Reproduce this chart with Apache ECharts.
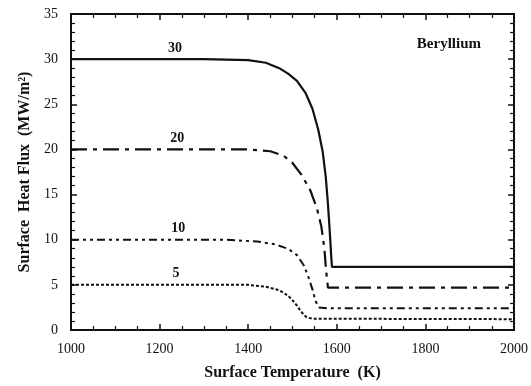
<!DOCTYPE html>
<html>
<head>
<meta charset="utf-8">
<script src="https://cdn.jsdelivr.net/npm/echarts@6/dist/echarts.min.js"></script>
<style>
  html, body { margin: 0; padding: 0; background: #fff; }
  #chart { width: 531px; height: 386px; }
</style>
</head>
<body>
<div id="chart"></div>
<script>
// surface temperature (K) / surface heat flux (MW/m^2)
var tempQ30 = [1000, 1300, 1400, 1440, 1470, 1490, 1510, 1530, 1545, 1558, 1568, 1575, 1580, 1584, 1587, 1589, 1600, 2000];
var fluxQ30 = [30, 30, 29.9, 29.6, 29.0, 28.4, 27.6, 26.2, 24.5, 22.2, 19.8, 17.0, 14.0, 11.0, 8.5, 7.0, 7.0, 7.0];

var tempQ20 = [1000, 1400, 1450, 1480, 1500, 1520, 1540, 1555, 1565, 1572, 1576, 1580, 2000];
var fluxQ20 = [20, 20, 19.8, 19.3, 18.5, 17.2, 15.5, 13.5, 11.5, 9.0, 6.5, 4.7, 4.7];

var tempQ10 = [1000, 1350, 1420, 1460, 1490, 1510, 1525, 1535, 1545, 1552, 1560, 1580, 2000];
var fluxQ10 = [10, 10, 9.8, 9.5, 9.0, 8.3, 7.2, 6.0, 4.5, 3.2, 2.5, 2.4, 2.4];

var tempQ5 = [1000, 1400, 1440, 1470, 1490, 1500, 1510, 1517, 1525, 1532, 1545, 2000];
var fluxQ5 = [5, 5, 4.8, 4.4, 3.8, 3.3, 2.7, 2.2, 1.7, 1.4, 1.25, 1.2];

var curveNames = ['30', '20', '10', '5'];
var labelTemps = [1235, 1240, 1242, 1237];

function pairs(xs, ys) {
  return xs.map(function (x, i) { return [x, ys[i]]; });
}

var ink = '#111';
var serif = 'Liberation Serif';

function lineSeries(name, xs, ys, dash, width, labelX) {
  return {
    name: name,
    type: 'line',
    showSymbol: false,
    silent: true,
    data: pairs(xs, ys),
    lineStyle: { color: ink, width: width, type: dash },
    markPoint: {
      symbol: 'circle',
      symbolSize: 1,
      itemStyle: { color: 'rgba(0,0,0,0)' },
      label: {
        show: true,
        position: 'inside',
        offset: [0, -11],
        formatter: name,
        color: ink,
        fontFamily: serif,
        fontWeight: 'bold',
        fontSize: 14
      },
      data: [{ coord: [labelX, ys[0]] }]
    }
  };
}

function xAx(pos, showLabel) {
  return {
    type: 'value',
    position: pos,
    min: 1000,
    max: 2000,
    interval: 200,
    name: showLabel ? 'Surface Temperature  (K)' : '',
    nameLocation: 'middle',
    nameGap: 35,
    nameTextStyle: { fontFamily: serif, fontWeight: 'bold', fontSize: 16, color: ink },
    axisLine: { show: true, onZero: false, lineStyle: { color: ink, width: 2 } },
    axisTick: { show: true, inside: true, length: 6, lineStyle: { color: ink, width: 1.5 } },
    minorTick: { show: true, splitNumber: 4, length: 4, lineStyle: { color: ink, width: 1.2 } },
    axisLabel: {
      show: showLabel, margin: 12, fontFamily: serif, fontSize: 14, color: ink,
      formatter: function (v) { return String(v); }
    },
    splitLine: { show: false }
  };
}

function yAx(pos, showLabel) {
  return {
    type: 'value',
    position: pos,
    min: 0,
    max: 35,
    interval: 5,
    name: showLabel ? 'Surface  Heat Flux  (MW/m\u00B2)' : '',
    nameLocation: 'middle',
    nameGap: 38,
    nameTextStyle: { fontFamily: serif, fontWeight: 'bold', fontSize: 16, color: ink },
    axisLine: { show: true, onZero: false, lineStyle: { color: ink, width: 2 } },
    axisTick: { show: true, inside: true, length: 6, lineStyle: { color: ink, width: 1.5 } },
    minorTick: { show: true, splitNumber: 5, length: 4, lineStyle: { color: ink, width: 1.2 } },
    axisLabel: { show: showLabel, margin: 13, fontFamily: serif, fontSize: 14, color: ink },
    splitLine: { show: false }
  };
}

var chart = echarts.init(document.getElementById('chart'), null, { renderer: 'canvas' });
chart.setOption({
  backgroundColor: '#fff',
  animation: false,
  grid: { left: 71, right: 17, top: 14, bottom: 56 },
  title: {
    text: 'Beryllium',
    right: 45,
    top: 32,
    textStyle: { fontFamily: serif, fontWeight: 'bold', fontSize: 15, color: ink }
  },
  xAxis: [xAx('bottom', true), xAx('top', false)],
  yAxis: [yAx('left', true), yAx('right', false)],
  series: [
    lineSeries(curveNames[0], tempQ30, fluxQ30, 'solid', 2.2, labelTemps[0]),
    lineSeries(curveNames[1], tempQ20, fluxQ20, [16, 6, 4, 6], 2.2, labelTemps[1]),
    lineSeries(curveNames[2], tempQ10, fluxQ10, [8, 4, 3, 4, 3, 4], 2, labelTemps[2]),
    lineSeries(curveNames[3], tempQ5, fluxQ5, [3, 2], 2, labelTemps[3])
  ]
});
</script>
</body>
</html>
